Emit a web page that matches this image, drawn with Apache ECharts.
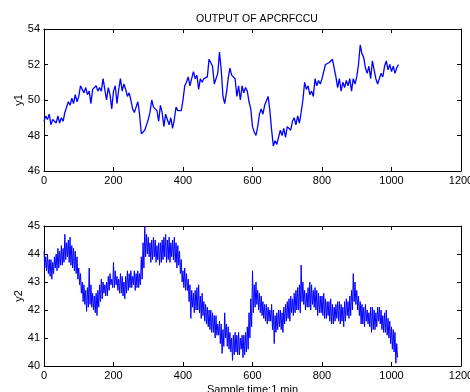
<!DOCTYPE html>
<html>
<head>
<meta charset="utf-8">
<script src="https://cdn.jsdelivr.net/npm/echarts@6/dist/echarts.min.js"></script>
<style>
  html, body { margin: 0; padding: 0; background: #fff; }
  #chart { width: 470px; height: 392px; }
</style>
</head>
<body>
<div id="chart"></div>
<script>
// y1 sampled every 5 minutes, x = 0 .. 1020
const y1Step = 5;
const y1 = [
  48.8, 49.1, 48.9, 49.2, 48.6, 48.9, 49.0, 48.7, 49.1, 48.7,
  49.0, 48.8, 49.3, 49.2, 49.9, 49.7, 50.1, 49.8, 50.3, 49.9,
  50.2, 50.8, 50.6, 50.4, 50.7, 50.3, 50.5, 49.8, 50.6, 50.5,
  50.8, 50.5, 50.7, 50.5, 51.2, 50.6, 50.0, 50.7, 50.3, 49.5,
  50.5, 50.8, 49.8, 50.6, 51.2, 50.5, 50.9, 50.6, 50.2, 50.4,
  50.0, 49.5, 49.3, 49.6, 49.9, 49.2, 48.1, 48.0, 48.3, 48.6,
  48.9, 49.3, 50.0, 49.6, 49.7, 49.4, 48.8, 49.7, 49.3, 48.5,
  49.2, 48.9, 48.6, 49.0, 48.4, 48.9, 49.6, 49.4, 49.5, 49.4,
  50.0, 50.8, 51.0, 51.3, 50.8, 51.2, 51.6, 51.2, 51.4, 50.6,
  51.2, 51.0, 51.2, 51.1, 51.3, 52.3, 52.1, 51.9, 50.9, 51.2,
  51.5, 52.7, 51.7, 50.2, 49.8, 50.4, 51.2, 51.8, 51.4, 51.3,
  51.2, 50.2, 50.8, 50.0, 50.8, 50.4, 50.7, 50.5, 49.9, 49.5,
  48.5, 48.2, 48.0, 48.5, 49.2, 49.5, 49.2, 49.7, 49.8, 50.2,
  49.4, 48.3, 47.4, 47.7, 47.5, 47.9, 48.3, 48.0, 48.4, 47.9,
  48.5, 48.6, 48.3, 48.8, 49.0, 48.6, 49.1, 48.7, 49.3, 50.0,
  51.0, 50.6, 50.8, 50.3, 50.5, 50.2, 51.2, 50.8, 51.1, 50.9,
  51.2, 51.3, 52.0, 51.9, 52.1, 52.0, 52.3, 51.8, 51.3, 50.7,
  51.2, 50.5, 51.0, 50.7, 51.1, 50.8, 51.2, 50.5, 51.2, 50.9,
  51.3, 52.0, 53.1, 52.6, 52.4, 51.8, 51.5, 51.9, 51.2, 52.2,
  51.7, 51.2, 50.9, 51.0, 51.5, 51.3, 51.9, 52.2, 51.7, 52.0,
  51.6, 51.9, 51.5, 51.8, 52.0
];

// y2 is very noisy: upper and lower edge of the band, every 5 minutes
// (hi at x, lo half a step later)
const y2Step = 5;
const y2Hi = [
  44.1, 43.9, 44.0, 43.8, 43.8, 43.7, 43.9, 44.0, 44.2, 44.1,
  44.3, 44.2, 44.7, 44.4, 44.5, 44.6, 44.3, 44.2, 44.1, 43.9,
  43.5, 43.3, 43.0, 42.9, 42.7, 42.8, 43.5, 42.9, 42.6, 42.5,
  42.6, 42.7, 42.9, 43.1, 43.0, 42.9, 43.0, 43.2, 43.3, 43.1,
  43.7, 43.4, 43.2, 43.1, 43.3, 43.2, 43.0, 43.2, 43.4, 43.3,
  43.4, 43.2, 43.4, 43.3, 43.4, 43.3, 43.9, 44.4, 45.0, 44.7,
  44.6, 44.4, 44.5, 44.6, 44.5, 44.3, 44.4, 44.4, 44.5, 44.6,
  44.7, 44.5, 44.6, 44.4, 44.5, 44.6, 44.4, 44.3, 44.1, 43.8,
  43.4, 43.5, 43.3, 43.1, 42.9, 42.7, 42.6, 42.7, 42.8, 42.9,
  42.5, 42.6, 42.3, 42.2, 42.1, 42.0, 42.0, 41.9, 41.8, 41.8,
  41.5, 41.6, 41.5, 41.3, 41.9, 41.5, 41.4, 41.2, 41.0, 41.1,
  41.2, 41.1, 41.2, 41.0, 41.1, 41.1, 41.2, 41.4, 41.9, 42.4,
  43.4, 42.9, 43.0, 42.7, 42.6, 42.5, 42.3, 42.2, 42.2, 42.1,
  42.0, 42.2, 42.0, 41.8, 41.9, 42.0, 42.0, 41.9, 42.1, 42.2,
  42.3, 42.4, 42.5, 42.4, 42.6, 42.7, 42.8, 42.9, 43.6, 43.0,
  42.7, 42.6, 42.8, 43.0, 42.9, 42.7, 42.8, 42.7, 42.6, 42.5,
  42.5, 42.6, 42.4, 42.3, 42.3, 42.4, 42.2, 42.1, 42.2, 42.3,
  42.3, 42.2, 42.1, 42.3, 42.4, 42.3, 42.5, 42.7, 43.3, 43.0,
  42.7, 42.5, 42.3, 42.2, 42.1, 42.2, 42.0, 41.9, 42.1, 42.1,
  42.0, 41.9, 42.1, 42.1, 42.0, 41.8, 41.9, 42.0, 41.7, 41.6,
  41.4, 41.3, 41.2, 40.8
];
const y2Lo = [
  43.5, 43.4, 43.3, 43.2, 43.1, 43.3, 43.5, 43.4, 43.5, 43.6,
  43.6, 43.7, 43.8, 43.9, 43.7, 43.6, 43.5, 43.4, 43.3, 43.1,
  42.9, 42.6, 42.3, 42.2, 41.95, 42.1, 42.2, 42.1, 42.0, 41.9,
  41.8, 42.1, 42.3, 42.4, 42.6, 42.5, 42.5, 42.7, 42.9, 42.8,
  42.8, 42.9, 42.7, 42.6, 42.6, 42.5, 42.4, 42.6, 42.7, 42.8,
  42.8, 42.9, 42.7, 42.8, 42.8, 42.9, 43.1, 43.5, 43.9, 44.0,
  43.9, 43.7, 43.8, 43.9, 43.7, 43.8, 43.6, 43.7, 43.8, 43.9,
  43.7, 43.8, 43.7, 43.9, 43.8, 43.7, 43.5, 43.6, 43.3, 43.0,
  42.8, 42.7, 42.7, 42.3, 41.7, 42.1, 41.9, 42.0, 42.0, 41.9,
  41.7, 41.8, 41.6, 41.5, 41.4, 41.3, 41.2, 41.2, 41.0, 41.1,
  41.1, 40.8, 40.45, 40.7, 41.0, 40.7, 40.6, 40.5, 40.2, 40.4,
  40.5, 40.4, 40.4, 40.6, 40.3, 40.4, 40.5, 40.6, 41.0, 41.4,
  41.9, 42.1, 42.2, 42.0, 41.9, 41.8, 41.7, 41.6, 41.5, 41.6,
  41.6, 41.3, 40.8, 41.2, 41.3, 41.4, 41.3, 41.2, 41.5, 41.6,
  41.7, 41.6, 41.9, 41.8, 41.9, 42.0, 42.0, 41.9, 42.3, 42.2,
  42.0, 42.1, 42.1, 42.0, 42.2, 42.1, 42.0, 41.8, 41.9, 41.9,
  41.8, 41.7, 41.7, 41.8, 41.6, 41.5, 41.5, 41.6, 41.7, 41.6,
  41.5, 41.6, 41.4, 41.6, 41.8, 41.7, 41.8, 42.0, 42.3, 42.2,
  42.0, 41.8, 41.5, 41.5, 41.4, 41.6, 41.5, 41.4, 41.2, 41.3,
  41.3, 41.4, 41.6, 41.5, 41.3, 41.2, 41.2, 41.1, 41.0, 40.8,
  40.6, 40.5, 40.1, 40.3
];

const xTicks = [0, 200, 400, 600, 800, 1000, 1200];

const y1Data = y1.map((v, i) => [i * y1Step, v]);
const y2Data = [];
y2Hi.forEach((v, i) => {
  y2Data.push([i * y2Step, v]);
  y2Data.push([i * y2Step + y2Step / 2, y2Lo[i]]);
});

const chart = echarts.init(document.getElementById("chart"));

const font = "'Liberation Sans', Arial, sans-serif";
const lineStyle = { color: "#000", width: 1 };

function xAx(grid, pos, labels, name) {
  return {
    type: "value",
    gridIndex: grid,
    position: pos,
    min: xTicks[0],
    max: xTicks[xTicks.length - 1],
    interval: 200,
    axisLine: { show: true, onZero: false, lineStyle },
    axisTick: { show: true, inside: true, length: 4, lineStyle },
    axisLabel: {
      show: labels, color: "#000", fontSize: 11, fontFamily: font, margin: 4,
      formatter: (v) => String(v),
    },
    splitLine: { show: false },
    name: name || "",
    nameLocation: "middle",
    nameGap: 18,
    nameMoveOverlap: false,
    nameTextStyle: { color: "#000", fontSize: 11, fontFamily: font, verticalAlign: "top" },
  };
}

function yAx(grid, pos, min, max, step, labels, name) {
  return {
    type: "value",
    gridIndex: grid,
    position: pos,
    min: min,
    max: max,
    interval: step,
    axisLine: { show: true, onZero: false, lineStyle },
    axisTick: { show: true, inside: true, length: 4, lineStyle },
    axisLabel: {
      show: labels, color: "#000", fontSize: 11, fontFamily: font, margin: 4,
      formatter: (v) => String(v),
    },
    splitLine: { show: false },
    name: name || "",
    nameLocation: "middle",
    nameGap: 20,
    nameMoveOverlap: false,
    nameTextStyle: { color: "#000", fontSize: 11, fontFamily: font },
  };
}

chart.setOption({
  animation: false,
  backgroundColor: "#fff",
  title: {
    text: "OUTPUT OF APCRFCCU",
    left: 252,
    top: 9,
    textAlign: "center",
    textStyle: { color: "#000", fontSize: 10.5, fontWeight: "normal", fontFamily: font },
  },
  grid: [
    { left: 44, right: 9, top: 29, height: 142, outerBoundsMode: "none", containLabel: false },
    { left: 44, right: 9, top: 226, height: 140, outerBoundsMode: "none", containLabel: false },
  ],
  xAxis: [
    xAx(0, "bottom", true),
    xAx(0, "top", false),
    xAx(1, "bottom", true, "Sample time:1 min"),
    xAx(1, "top", false),
  ],
  yAxis: [
    yAx(0, "left", 46, 54, 2, true, "y1"),
    yAx(0, "right", 46, 54, 2, false),
    yAx(1, "left", 40, 45, 1, true, "y2"),
    yAx(1, "right", 40, 45, 1, false),
  ],
  series: [
    {
      type: "line",
      xAxisIndex: 0,
      yAxisIndex: 0,
      data: y1Data,
      showSymbol: false,
      lineStyle: { color: "#0000ff", width: 1.3 },
    },
    {
      type: "line",
      xAxisIndex: 2,
      yAxisIndex: 2,
      data: y2Data,
      showSymbol: false,
      lineStyle: { color: "#0000ff", width: 1 },
    },
  ],
});
</script>
</body>
</html>
